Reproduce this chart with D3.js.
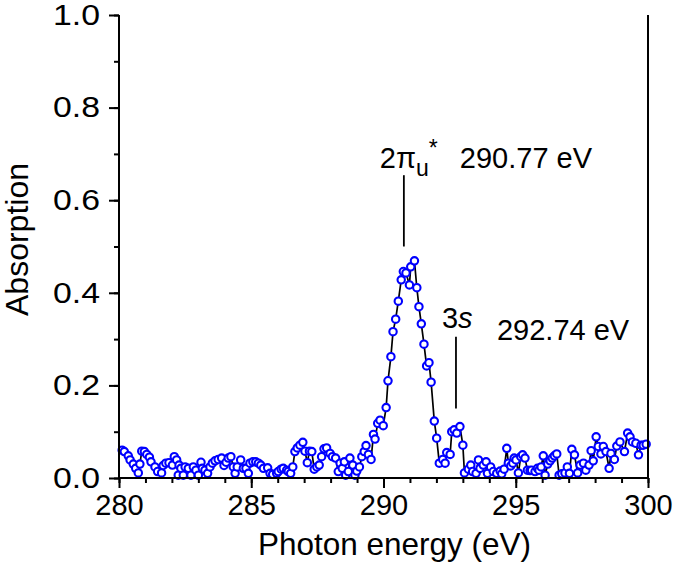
<!DOCTYPE html>
<html>
<head>
<meta charset="utf-8">
<script src="https://cdn.jsdelivr.net/npm/d3@7"></script>
<style>
html, body { margin: 0; padding: 0; background: #fff; }
svg text { font-family: "Liberation Sans", Arial, Helvetica, sans-serif; fill: #000; }
</style>
</head>
<body>
<svg id="chart" width="675" height="565"></svg>
<script>
// ---- data ----
const energy = [
280.12,280.20,280.35,280.42,280.54,280.63,280.73,280.79,280.86,280.96,
281.05,281.15,281.21,281.36,281.46,281.61,281.67,281.77,281.89,282.02,
282.09,282.18,282.24,282.27,282.34,282.43,282.50,282.62,282.72,282.81,
282.91,283.00,283.10,283.15,283.25,283.35,283.44,283.53,283.63,283.75,
283.88,283.97,284.05,284.13,284.23,284.32,284.39,284.47,284.60,284.70,
284.80,284.89,284.95,285.06,285.17,285.27,285.36,285.46,285.62,285.71,
285.81,285.96,286.02,286.13,286.21,286.34,286.40,286.49,286.57,286.65,
286.74,286.84,286.95,287.03,287.12,287.20,287.29,287.38,287.48,287.57,
287.66,287.75,287.85,287.98,288.07,288.19,288.29,288.36,288.44,288.52,
288.57,288.67,288.73,288.84,288.92,288.99,289.09,289.18,289.27,289.34,
289.43,289.53,289.62,289.68,289.78,289.87,289.99,290.10,290.17,290.28,
290.36,290.46,290.56,290.67,290.75,290.85,290.98,291.03,291.17,291.26,
291.34,291.43,291.53,291.63,291.72,291.80,291.92,292.01,292.11,292.24,
292.33,292.39,292.52,292.58,292.67,292.77,292.89,293.00,293.06,293.21,
293.30,293.37,293.50,293.59,293.65,293.77,293.88,293.93,294.05,294.15,
294.28,294.41,294.47,294.56,294.66,294.72,294.81,294.89,294.94,295.01,
295.10,295.19,295.26,295.35,295.44,295.54,295.60,295.73,295.82,295.88,
295.96,296.04,296.11,296.21,296.30,296.38,296.46,296.55,296.64,296.74,
296.86,296.95,297.03,297.12,297.22,297.34,297.43,297.56,297.65,297.77,
297.85,297.93,298.04,298.12,298.22,298.31,298.41,298.53,298.60,298.73,
298.82,298.94,299.11,299.23,299.32,299.41,299.54,299.64,299.74,299.82,
299.93
];
const absorption = [
0.060,0.057,0.048,0.039,0.030,0.021,0.011,0.030,0.058,0.057,
0.051,0.045,0.035,0.024,0.014,0.011,0.027,0.032,0.033,0.028,
0.046,0.039,0.006,0.028,0.021,0.006,0.024,0.021,0.006,0.024,
0.017,0.006,0.034,0.021,0.017,0.010,0.024,0.032,0.037,0.040,
0.043,0.027,0.034,0.043,0.046,0.024,0.010,0.024,0.039,0.021,
0.021,0.010,0.032,0.035,0.035,0.032,0.028,0.021,0.022,0.010,
0.008,0.010,0.014,0.019,0.021,0.017,0.014,0.010,0.024,0.057,
0.065,0.071,0.077,0.058,0.033,0.058,0.057,0.019,0.024,0.028,
0.046,0.063,0.065,0.053,0.046,0.043,0.014,0.032,0.021,0.035,
0.006,0.014,0.043,0.028,0.006,0.015,0.024,0.046,0.057,0.070,
0.051,0.040,0.094,0.084,0.118,0.125,0.113,0.152,0.210,0.262,
0.316,0.343,0.382,0.428,0.446,0.443,0.417,0.456,0.469,0.411,
0.370,0.333,0.289,0.242,0.249,0.207,0.123,0.086,0.032,0.040,
0.032,0.055,0.051,0.100,0.104,0.097,0.111,0.071,0.011,0.019,
0.028,0.014,0.010,0.039,0.021,0.028,0.035,0.010,0.024,0.014,
0.010,0.015,0.009,0.019,0.064,0.032,0.026,0.032,0.043,0.039,
0.011,0.046,0.050,0.043,0.017,0.016,0.017,0.014,0.021,0.017,
0.024,0.048,0.006,0.030,0.037,0.043,0.048,0.052,0.006,0.009,
0.011,0.024,0.010,0.062,0.050,0.011,0.028,0.032,0.017,0.028,
0.059,0.037,0.089,0.068,0.052,0.068,0.057,0.021,0.053,0.040,
0.069,0.078,0.057,0.097,0.089,0.078,0.075,0.050,0.071,0.071,
0.073
];
const xTicks = [280, 285, 290, 295, 300];
const yTicks = [0.0, 0.2, 0.4, 0.6, 0.8, 1.0];
const peakNames = ["2\u03C0", "3"];
const peakEnergies = [290.77, 292.74];
const peakLabels = ["290.77 eV", "292.74 eV"];
const peakLineTop = [0.654, 0.305];
const peakLineBottom = [0.500, 0.150];

// ---- layout ----
const svg = d3.select("#chart");
const margin = {left: 119, top: 15, right: 27, bottom: 87};
const W = 675 - margin.left - margin.right;
const H = 565 - margin.top - margin.bottom;
const g = svg.append("g").attr("transform", `translate(${margin.left},${margin.top})`);

const x = d3.scaleLinear().domain([280, 300]).range([0, W]);
const y = d3.scaleLinear().domain([0, 1]).range([H, 0]);

const pts = energy.map((e, i) => ({e, a: absorption[i]}));

// line
g.append("path")
  .datum(pts)
  .attr("fill", "none")
  .attr("stroke", "#000")
  .attr("stroke-width", 1.7)
  .attr("d", d3.line().x(d => x(d.e)).y(d => y(d.a)));

// markers
g.selectAll("circle.pt").data(pts).enter().append("circle")
  .attr("class", "pt")
  .attr("cx", d => x(d.e)).attr("cy", d => y(d.a))
  .attr("r", 3.7)
  .attr("fill", "#fff")
  .attr("stroke", "#0000ff")
  .attr("stroke-width", 2.1);

// axes
const fontTick = 29;
const xMinor = g.append("g").attr("transform", `translate(0,${H})`)
  .call(d3.axisBottom(x).ticks(20).tickSize(5).tickFormat(""));
const xAxis = g.append("g").attr("transform", `translate(0,${H})`)
  .call(d3.axisBottom(x).tickValues(xTicks).tickSize(10).tickPadding(6).tickFormat(d3.format("d")));
const yMinor = g.append("g")
  .call(d3.axisLeft(y).ticks(10).tickSize(5).tickFormat(""));
const yAxis = g.append("g")
  .call(d3.axisLeft(y).tickValues(yTicks).tickSize(10).tickPadding(9).tickFormat(d3.format(".1f")));

[xMinor, xAxis, yMinor, yAxis].forEach(a => {
  a.selectAll("path.domain").attr("stroke", "#000").attr("stroke-width", 2);
  a.selectAll(".tick line").attr("stroke", "#000").attr("stroke-width", 2);
  a.selectAll(".tick text").style("font-size", fontTick + "px")
    .style("font-family", '"Liberation Sans", Arial, sans-serif').attr("fill", "#000");
});
yAxis.selectAll(".tick text")
  .attr("textLength", 47).attr("lengthAdjust", "spacingAndGlyphs");
[xMinor, xAxis].forEach(a => a.select("path.domain").attr("d", `M0,0H${W}`));
[yMinor, yAxis].forEach(a => a.select("path.domain").attr("d", `M0,${H}V0`));

// right border
g.append("line").attr("x1", W).attr("x2", W).attr("y1", 0).attr("y2", H)
  .attr("stroke", "#000").attr("stroke-width", 2);

// axis titles
g.append("text")
  .attr("x", W / 2 + 11).attr("y", H + 77)
  .attr("text-anchor", "middle")
  .style("font-size", "31.5px")
  .text("Photon energy (eV)");
g.append("text")
  .attr("transform", `translate(${-91},${H / 2 - 7}) rotate(-90)`)
  .attr("text-anchor", "middle")
  .style("font-size", "32px")
  .text("Absorption");

// peak annotation lines
peakEnergies.forEach((pe, i) => {
  g.append("line")
    .attr("x1", x(pe)).attr("x2", x(pe))
    .attr("y1", y(peakLineTop[i])).attr("y2", y(peakLineBottom[i]))
    .attr("stroke", "#000").attr("stroke-width", 1.8);
});

// 2pi_u* label
const t1 = g.append("text")
  .attr("x", x(peakEnergies[0]) - 24).attr("y", y(peakLineTop[0]) - 7)
  .style("font-size", "29px");
t1.append("tspan").text(peakNames[0]);
t1.append("tspan").attr("dy", 8).style("font-size", "23px").text("u");
t1.append("tspan").attr("dy", -20).style("font-size", "23px").text("*");
g.append("text")
  .attr("x", x(peakEnergies[0]) + 56).attr("y", y(peakLineTop[0]) - 7)
  .style("font-size", "29px")
  .text(peakLabels[0]);

// 3s label
const t2 = g.append("text")
  .attr("x", x(peakEnergies[1]) - 14).attr("y", y(peakLineTop[1]) - 9)
  .style("font-size", "29px");
t2.append("tspan").text(peakNames[1]);
t2.append("tspan").style("font-style", "italic").text("s");
g.append("text")
  .attr("x", x(peakEnergies[1]) + 41).attr("y", y(peakLineTop[1]) + 3)
  .style("font-size", "29px")
  .text(peakLabels[1]);
</script>
</body>
</html>
